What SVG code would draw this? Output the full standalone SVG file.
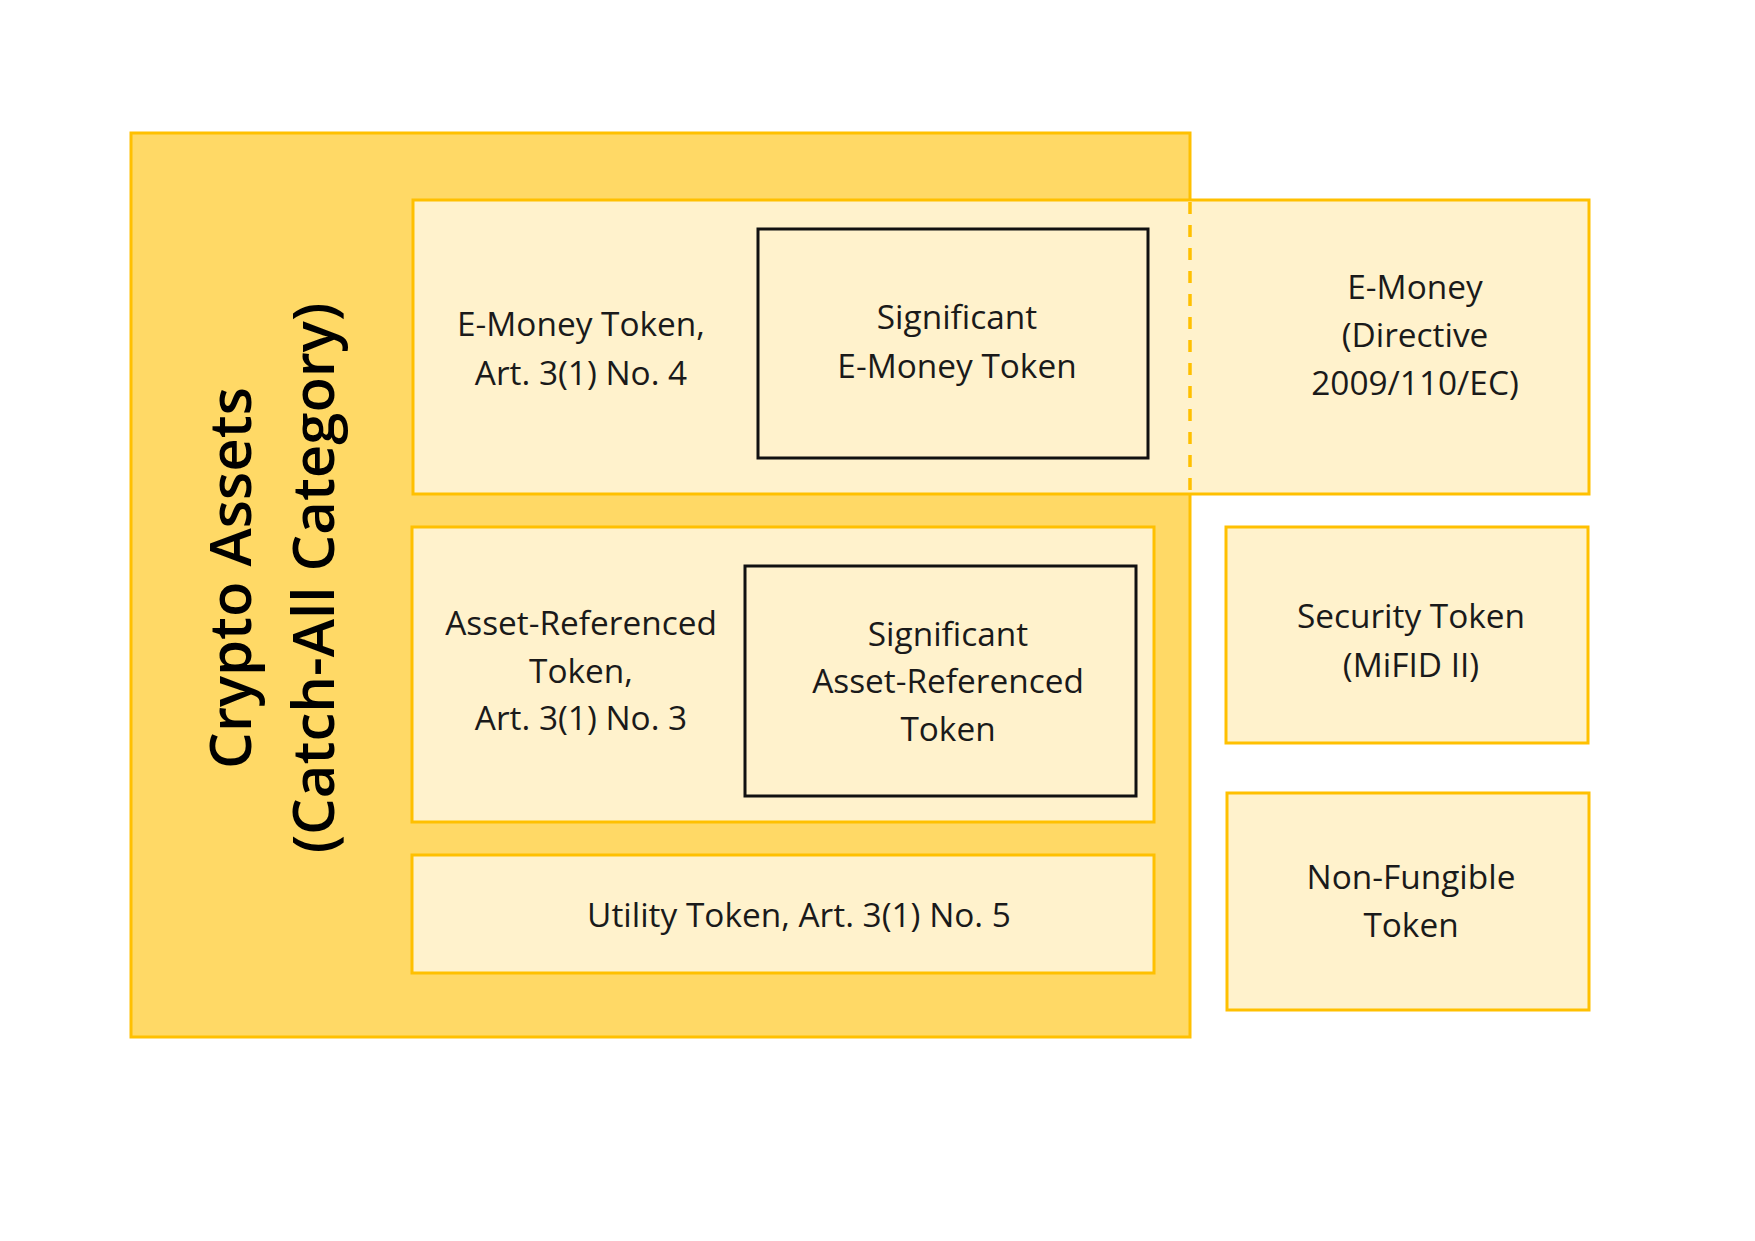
<svg xmlns="http://www.w3.org/2000/svg" width="1755" height="1241" viewBox="0 0 1755 1241">
<style>
.outer{fill:#FFD966;stroke:#FFC000;stroke-width:3}
.box{fill:#FFF2CC;stroke:#FFC000;stroke-width:3}
.sig{fill:none;stroke:#111;stroke-width:3}
.t{font-family:"Open Sans","Noto Sans","DejaVu Sans",sans-serif;font-size:33.4px;fill:#1a1a1a;text-anchor:middle}
.big{font-family:"Open Sans","Noto Sans","DejaVu Sans",sans-serif;font-size:58px;font-weight:600;fill:#000;text-anchor:middle}
.dash{stroke:#FFC000;stroke-width:3.5;stroke-dasharray:12 11;fill:none}
</style>
<rect width="1755" height="1241" fill="#fff"/>
<g id="crypto-assets">
<rect class="outer" x="131" y="133" width="1059" height="904"/>
<text class="big" transform="translate(251,578) rotate(-90)" x="0" y="0">Crypto Assets</text>
<text class="big" transform="translate(334,578) rotate(-90)" x="0" y="0">(Catch-All Category)</text>
</g>
<g id="e-money-token">
<rect class="box" x="413" y="200" width="1176" height="294"/>
<text class="t" x="581" y="336">E-Money Token,</text>
<text class="t" x="581" y="385">Art. 3(1) No. 4</text>
</g>
<g id="e-money-directive">
<text class="t" x="1415" y="299">E-Money</text>
<text class="t" x="1415" y="347">(Directive</text>
<text class="t" x="1415" y="395">2009/110/EC)</text>
</g>
<g id="significant-e-money-token">
<rect class="sig" x="758" y="229" width="390" height="229"/>
<text class="t" x="957" y="329">Significant</text>
<text class="t" x="957" y="378">E-Money Token</text>
</g>
<g id="asset-referenced-token">
<rect class="box" x="412" y="527" width="742" height="295"/>
<text class="t" x="581" y="635">Asset-Referenced</text>
<text class="t" x="581" y="683">Token,</text>
<text class="t" x="581" y="730">Art. 3(1) No. 3</text>
</g>
<g id="significant-asset-referenced-token">
<rect class="sig" x="745" y="566" width="391" height="230"/>
<text class="t" x="948" y="646">Significant</text>
<text class="t" x="948" y="693">Asset-Referenced</text>
<text class="t" x="948" y="741">Token</text>
</g>
<g id="utility-token">
<rect class="box" x="412" y="855" width="742" height="118"/>
<text class="t" x="799" y="927">Utility Token, Art. 3(1) No. 5</text>
</g>
<g id="security-token">
<rect class="box" x="1226" y="527" width="362" height="216"/>
<text class="t" x="1411" y="628">Security Token</text>
<text class="t" x="1411" y="677">(MiFID II)</text>
</g>
<g id="non-fungible-token">
<rect class="box" x="1227" y="793" width="362" height="217"/>
<text class="t" x="1411" y="889">Non-Fungible</text>
<text class="t" x="1411" y="937">Token</text>
</g>
<g id="connectors">
<line class="dash" x1="1190" y1="202" x2="1190" y2="492"/>
</g>
</svg>
